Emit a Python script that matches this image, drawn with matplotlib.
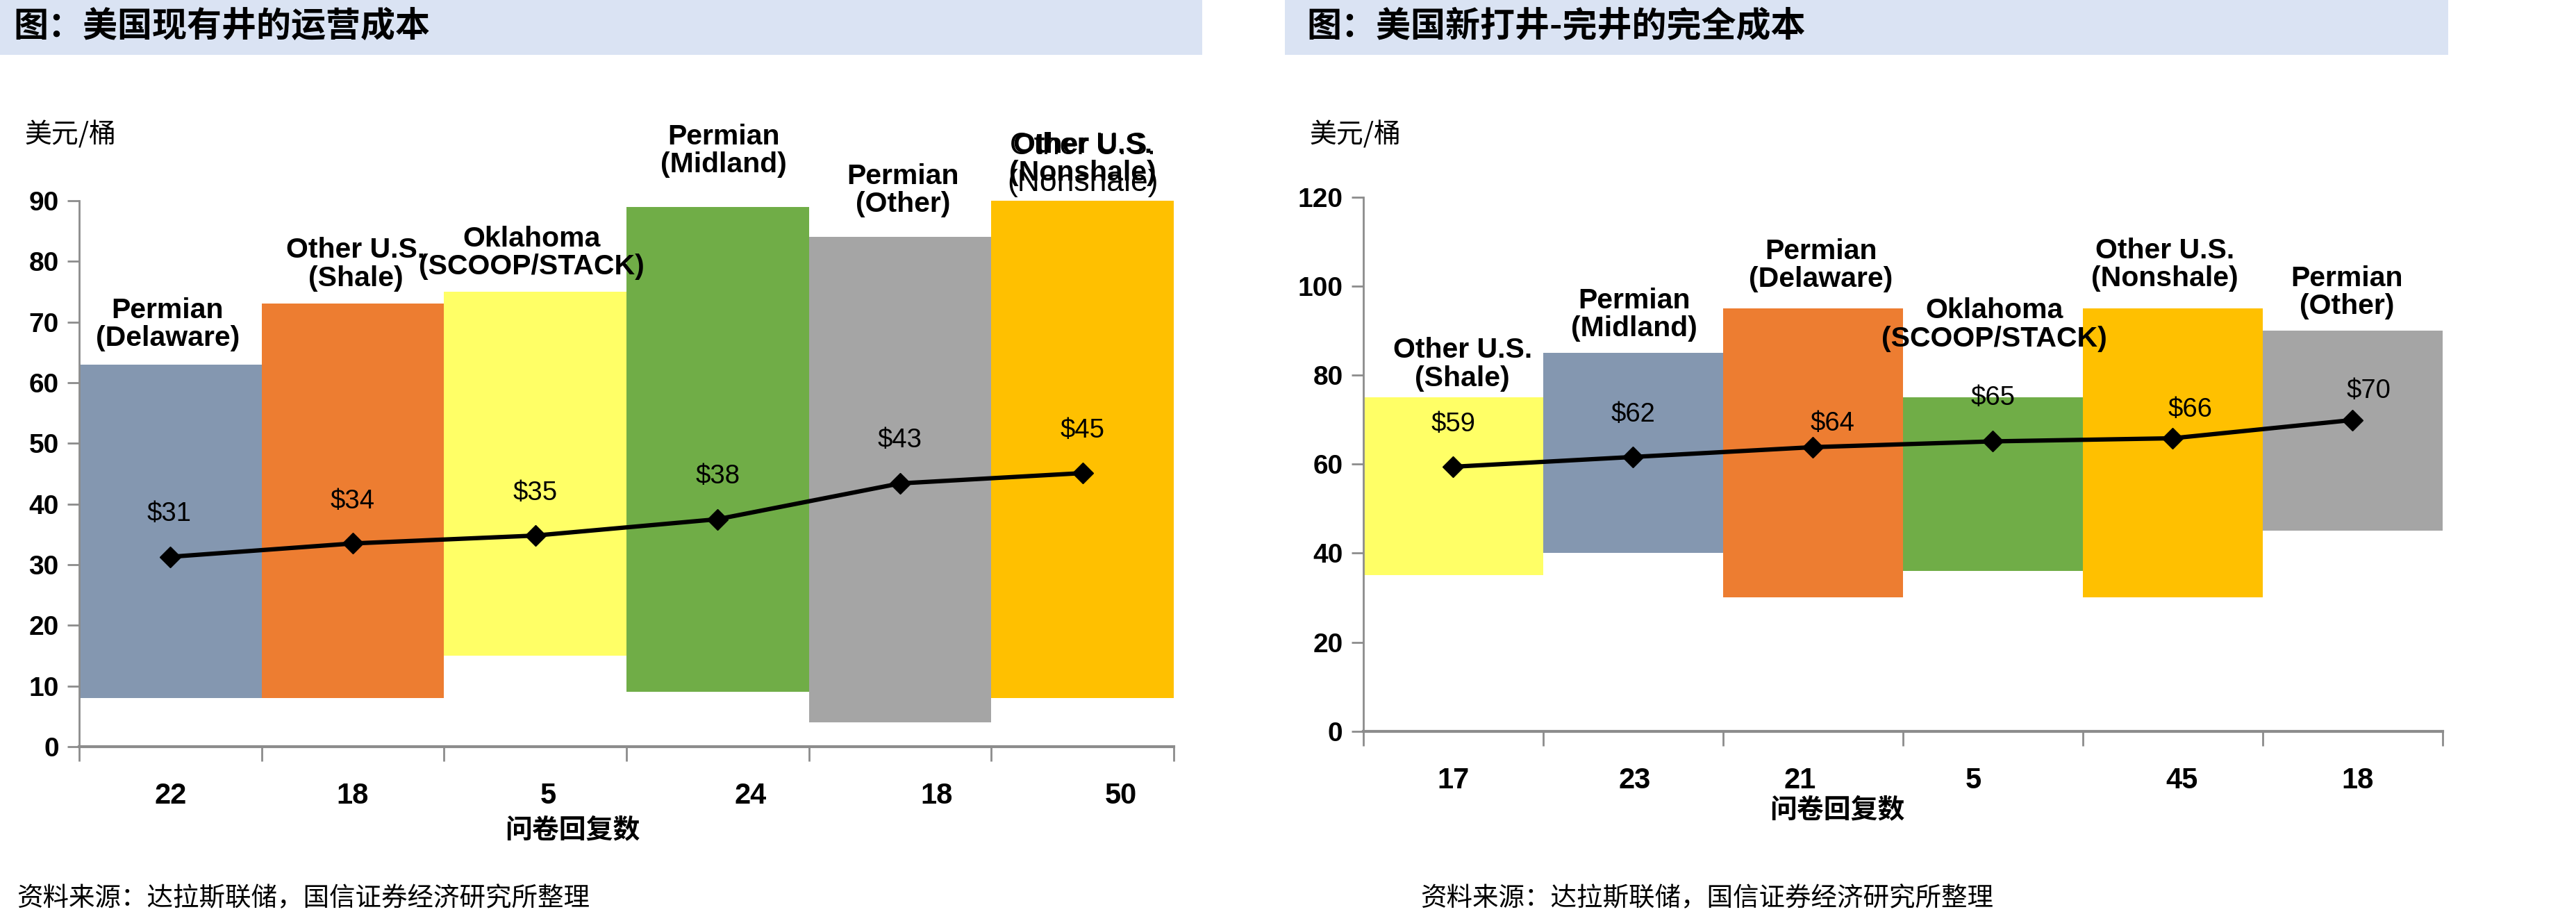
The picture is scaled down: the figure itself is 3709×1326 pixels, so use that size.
import matplotlib
matplotlib.use('Agg')
import matplotlib.pyplot as plt
from matplotlib.patches import Rectangle
import numpy as np

plt.rcParams['font.family'] = ['Liberation Sans', 'Noto Sans CJK SC', 'DejaVu Sans']

# ---------------- data ----------------
left_title = '图：美国现有井的运营成本'
left_regions = ['Permian\n(Delaware)', 'Other U.S.\n(Shale)', 'Oklahoma\n(SCOOP/STACK)',
                'Permian\n(Midland)', 'Permian\n(Other)', 'Other U.S.\n(Nonshale)']
left_low = [8, 8, 15, 9, 4, 8]
left_high = [63, 73, 75, 89, 84, 90]
left_avg = [31.3, 33.5, 34.8, 37.5, 43.4, 45.1]
left_avg_labels = ['$31', '$34', '$35', '$38', '$43', '$45']
left_responses = ['22', '18', '5', '24', '18', '50']
left_yticks = [0, 10, 20, 30, 40, 50, 60, 70, 80, 90]

right_title = '图：美国新打井-完井的完全成本'
right_regions = ['Other U.S.\n(Shale)', 'Permian\n(Midland)', 'Permian\n(Delaware)',
                 'Oklahoma\n(SCOOP/STACK)', 'Other U.S.\n(Nonshale)', 'Permian\n(Other)']
right_low = [35, 40, 30, 36, 30, 45]
right_high = [75, 85, 95, 75, 95, 90]
right_avg = [59.4, 61.6, 63.8, 65.1, 65.8, 69.9]
right_avg_labels = ['$59', '$62', '$64', '$65', '$66', '$70']
right_responses = ['17', '23', '21', '5', '45', '18']
right_yticks = [0, 20, 40, 60, 80, 100, 120]

unit_label = '美元/桶'
xlabel = '问卷回复数'
source = '资料来源：达拉斯联储，国信证券经济研究所整理'

# ---------------- styles ----------------
region_colors = {
    'Permian\n(Delaware)': '#8497B0',
    'Other U.S.\n(Shale)': '#ED7D31',
    'Oklahoma\n(SCOOP/STACK)': '#FFFF66',
    'Permian\n(Midland)': '#70AD47',
    'Permian\n(Other)': '#A5A5A5',
    'Other U.S.\n(Nonshale)': '#FFC000',
}
right_colors = {
    'Other U.S.\n(Shale)': '#FFFF66',
    'Permian\n(Midland)': '#8497B0',
    'Permian\n(Delaware)': '#ED7D31',
    'Oklahoma\n(SCOOP/STACK)': '#70AD47',
    'Other U.S.\n(Nonshale)': '#FFC000',
    'Permian\n(Other)': '#A5A5A5',
}
AX_GRAY = '#8C8C8C'
PX = 0.72  # pixels -> points at dpi 100

W, H = 3709, 1326
fig = plt.figure(figsize=(W / 100, H / 100), dpi=100)


def fx(px):
    return px / W


def fy(py):
    return 1 - py / H


def draw(ax, regions, colors, low, high, avg, avg_labels, responses, yticks,
         cat_offsets, val_offsets, resp_pos, ylim, tick_pad):
    n = len(regions)
    x = np.arange(n) + 0.5
    heights = [h - l for h, l in zip(high, low)]
    ax.bar(x, heights, bottom=low, width=1.0, color=[colors[r] for r in regions],
           zorder=2, linewidth=0)
    ax.plot(x, avg, color='black', lw=4.5, marker='D', ms=15.5, zorder=4)
    for i in range(n):
        dx, dy = val_offsets[i]
        ax.annotate(avg_labels[i], (x[i], avg[i]), xytext=(dx * PX, dy * PX),
                    textcoords='offset points', ha='center', va='center',
                    fontsize=27.5, zorder=5, annotation_clip=False)
        dx, dy = cat_offsets[i]
        ax.annotate(regions[i], (x[i], high[i]), xytext=(dx * PX, dy * PX),
                    textcoords='offset points', ha='center', va='center',
                    fontsize=29.5, fontweight='bold', linespacing=1.08,
                    zorder=5, annotation_clip=False)
    ax.set_xlim(0, n)
    ax.set_ylim(*ylim)
    ax.set_yticks(yticks)
    ax.set_xticks(np.arange(n + 1), minor=True)
    ax.set_xticks(resp_pos)
    ax.set_xticklabels(responses)
    ax.tick_params(axis='x', which='major', length=0, pad=tick_pad, labelsize=30)
    ax.tick_params(axis='x', which='minor', length=15, width=2, color=AX_GRAY,
                   direction='out')
    ax.tick_params(axis='y', length=12, width=2, color=AX_GRAY, pad=9, labelsize=28)
    for lbl in ax.get_xticklabels() + ax.get_yticklabels():
        lbl.set_fontweight('bold')
    for s in ['top', 'right']:
        ax.spines[s].set_visible(False)
    ax.spines['left'].set_color(AX_GRAY)
    ax.spines['left'].set_linewidth(2)
    ax.spines['bottom'].set_color(AX_GRAY)
    ax.spines['bottom'].set_linewidth(3)
    ax.set_facecolor('none')
    return x


# title bands
fig.patches.append(Rectangle((0, fy(79)), fx(1731), 79 / H, transform=fig.transFigure,
                             facecolor='#DAE3F3', edgecolor='none', zorder=0))
fig.patches.append(Rectangle((fx(1850), fy(79)), fx(1675), 79 / H, transform=fig.transFigure,
                             facecolor='#DAE3F3', edgecolor='none', zorder=0))
fig.text(fx(19), fy(38), left_title, fontsize=36, fontweight='bold', va='center', ha='left',
         family=['Noto Sans CJK SC', 'DejaVu Sans'])
fig.text(fx(1881), fy(38), right_title, fontsize=36, fontweight='bold', va='center', ha='left',
         family=['Noto Sans CJK SC', 'DejaVu Sans'])

# left chart
axL = fig.add_axes([fx(114), fy(1075), fx(1690 - 114), (1075 - 289) / H])
xL = draw(axL, left_regions, region_colors, left_low, left_high, left_avg, left_avg_labels,
          left_responses, left_yticks,
          cat_offsets=[(-4, 57.5), (4, 57), (-5, 56), (9, 81), (4, 67.6), (0, 60)],
          val_offsets=[(-2, 61.5), (0, 60), (0, 61), (0, 61), (0, 62), (0, 61)],
          resp_pos=[0.5, 1.5, 2.57, 3.68, 4.70, 5.71], ylim=(0, 90), tick_pad=37)
# duplicated (overlapping) label drawn in regular weight, as in the source image
axL.annotate(left_regions[5], (xL[5], left_high[5]), xytext=(0, 52 * PX),
             textcoords='offset points', ha='center', va='center', fontsize=32,
             linespacing=1.4, zorder=5, annotation_clip=False)

# right chart
axR = fig.add_axes([fx(1962.7), fy(1052.7), fx(3516.8 - 1962.7), (1052.7 - 283.6) / H])
draw(axR, right_regions, right_colors, right_low, right_high, right_avg, right_avg_labels,
     right_responses, right_yticks,
     cat_offsets=[(13.6, 47.5), (1.5, 55), (11.7, 62), (2, 104.5), (-11, 63), (-8.4, 55)],
     val_offsets=[(0, 61), (0, 60.5), (28, 34), (0, 62), (25, 41), (23, 42)],
     resp_pos=[0.5, 1.51, 2.43, 3.39, 4.55, 5.53], ylim=(0, 120), tick_pad=37)

# unit labels, axis titles, sources
for x0 in (35, 1885):
    fig.text(fx(x0), fy(194), unit_label, fontsize=28, va='center', ha='left',
             family=['Noto Sans CJK SC', 'DejaVu Sans'])
fig.text(fx(824), fy(1195), xlabel, fontsize=28, fontweight='bold', va='center', ha='center',
         family=['Noto Sans CJK SC', 'DejaVu Sans'])
fig.text(fx(2645), fy(1166), xlabel, fontsize=28, fontweight='bold', va='center', ha='center',
         family=['Noto Sans CJK SC', 'DejaVu Sans'])
fig.text(fx(24), fy(1294), source, fontsize=27, va='center', ha='left',
         family=['Noto Sans CJK SC', 'DejaVu Sans'])
fig.text(fx(2045), fy(1294), source, fontsize=27, va='center', ha='left',
         family=['Noto Sans CJK SC', 'DejaVu Sans'])

fig.savefig('out.png', dpi=100, facecolor='white')
